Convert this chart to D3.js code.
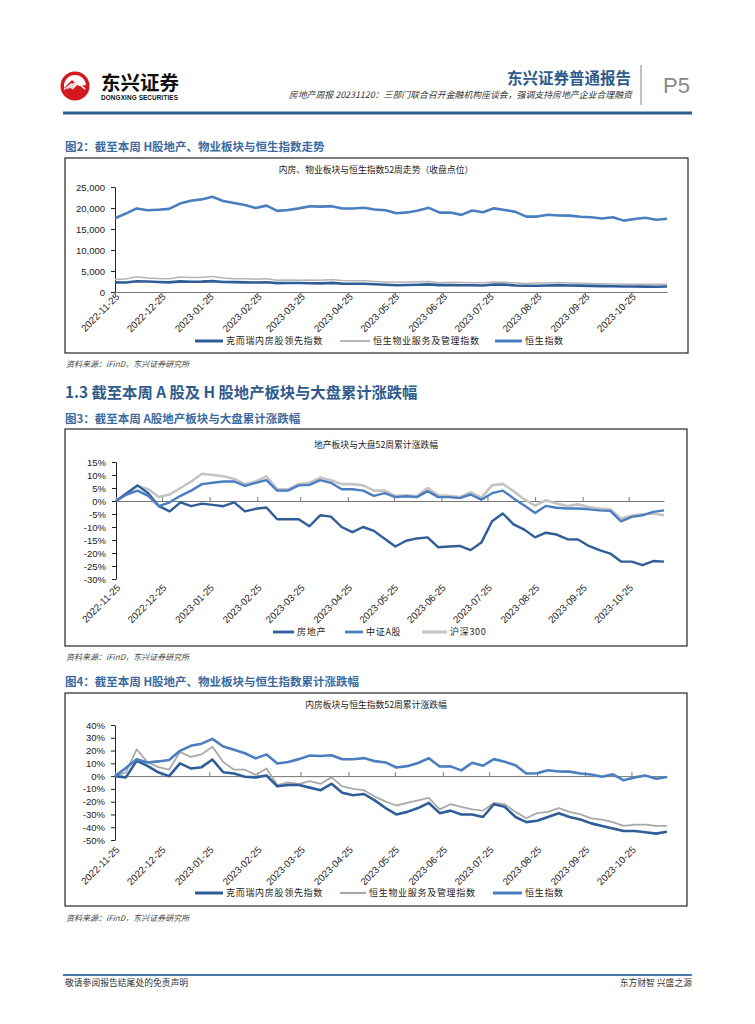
<!DOCTYPE html><meta charset="utf-8"><style>
  body { margin: 0; background: #fff; }
  svg text { font-family: "Liberation Sans", Arial, "Noto Sans CJK SC", sans-serif; }
  .cjk { font-family: "Noto Sans CJK SC", sans-serif; }
</style><svg width="755" height="1024"></svg><script src="https://cdn.jsdelivr.net/npm/d3@7/dist/d3.min.js"></script><script>

// weekly closes, 2022-11-25 .. 2023-11-17
var dates = ["2022-11-25","2022-12-02","2022-12-09","2022-12-16","2022-12-23","2022-12-30",
  "2023-01-06","2023-01-13","2023-01-20","2023-01-27","2023-02-03","2023-02-10","2023-02-17","2023-02-24",
  "2023-03-03","2023-03-10","2023-03-17","2023-03-24","2023-03-31","2023-04-07","2023-04-14","2023-04-21",
  "2023-04-28","2023-05-05","2023-05-12","2023-05-19","2023-05-26","2023-06-02","2023-06-09","2023-06-16",
  "2023-06-23","2023-06-30","2023-07-07","2023-07-14","2023-07-21","2023-07-28","2023-08-04","2023-08-11",
  "2023-08-18","2023-08-25","2023-09-01","2023-09-08","2023-09-15","2023-09-22","2023-09-29","2023-10-06",
  "2023-10-13","2023-10-20","2023-10-27","2023-11-03","2023-11-10","2023-11-17"];

var tickLabels = ["2022-11-25","2022-12-25","2023-01-25","2023-02-25","2023-03-25","2023-04-25",
  "2023-05-25","2023-06-25","2023-07-25","2023-08-25","2023-09-25","2023-10-25"];

// fig 2: closing points
var kerLevel = [2300,2277,2576,2484,2369,2300,2530,2438,2461,2599,2369,2346,2289,2277,2312,2116,2139,2139,2093,2047,
  2162,2001,1955,1978,1863,1725,1610,1656,1725,1817,1633,1679,1610,1610,1564,1794,1748,1564,1472,1495,
  1564,1633,1564,1518,1449,1403,1357,1311,1311,1288,1265,1300];
var propLevel = [3000,3090,3630,3330,3210,3150,3570,3450,3510,3690,3330,3150,3150,3030,3180,2790,2850,2820,2880,2820,
  2970,2760,2700,2670,2520,2400,2310,2370,2430,2490,2220,2340,2280,2220,2190,2370,2340,2160,2010,2130,
  2160,2250,2160,2100,2010,1980,1920,1830,1860,1860,1830,1830];
var hsiLevel = [17574,18675,19901,19450,19593,19781,21052,21738,22045,22689,21660,21190,20719,20010,20568,19320,19519,19916,20400,20331,
  20439,19898,19895,20049,19628,19451,18747,18950,19390,20041,18890,18916,18366,19414,18999,19917,19539,19075,17951,17956,
  18382,18202,18182,17933,17809,17486,17813,16995,17399,17664,17203,17454];

// fig 3: A-share cumulative change (%)
var reA = [0,3,6,3,-2,-4,-0.5,-2,-1,-1.5,-2,-0.5,-4,-3,-2.5,-7,-7,-7,-9.7,-5.5,
  -6,-10,-12,-10,-11.5,-14.5,-17.5,-15.3,-14.4,-14,-17.8,-17.5,-17.3,-18.9,-16,-7.8,-4.8,-9,-11,-14,
  -12.2,-12.9,-14.7,-14.8,-17.3,-18.9,-20.2,-23.3,-23.3,-24.7,-23.1,-23.3];
var csiA = [0,2.5,4,2,-2,-0.5,2,4,6.5,7,7.5,7.5,5.8,7,8,4,4,6,6.2,8,
  7,4.5,4.5,4,2,3,1.5,1.8,1.5,3.8,1.5,1.5,1.1,2.5,0.5,3,4,1,-1.7,-4.6,
  -1.9,-2.6,-2.9,-2.9,-3.2,-3.6,-3.8,-7.8,-6.1,-5.5,-4.2,-3.6];
var hs300 = [0,3,5.8,4.5,1.5,2.5,5,7.5,10.5,10,9.5,8.5,6.5,7.5,9.5,4.5,4.5,6.5,7,9,
  8,6.5,6.5,6,4,4,2,2.2,1.8,5,2.2,2,1.5,3.4,1.3,6,6.6,3.8,0.6,-1.8,
  0.3,-1,-1.9,-1.3,-2.3,-2.9,-3.2,-6.8,-5.6,-5.1,-4.8,-5.5];

// fig 4: HK cumulative change (%)
var kerPct = [0,-1,12,8,3,0,10,6,7,13,3,2,-0.5,-1,0.5,-8,-7,-7,-9,-11,
  -6,-13,-15,-14,-19,-25,-30,-28,-25,-21,-29,-27,-30,-30,-32,-22,-24,-32,-36,-35,
  -32,-29,-32,-34,-37,-39,-41,-43,-43,-44,-45,-43.5];
var propPct = [0,3,21,11,7,5,19,15,17,23,11,5,5,1,6,-7,-5,-6,-4,-6,
  -1,-8,-10,-11,-16,-20,-23,-21,-19,-17,-26,-22,-24,-26,-27,-21,-22,-28,-33,-29,
  -28,-25,-28,-30,-33,-34,-36,-39,-38,-38,-39,-39];
var hsiPct = [0,6.3,13.2,10.7,11.5,12.6,19.8,23.7,25.4,29.1,23.2,20.6,17.9,13.9,17.0,9.9,11.1,13.3,16.1,15.7,
  16.3,13.2,13.2,14.1,11.7,10.7,6.7,7.8,10.3,14.0,7.5,7.6,4.5,10.5,8.1,13.3,11.2,8.5,2.1,2.2,
  4.6,3.6,3.5,2.0,1.3,-0.5,1.4,-3.3,-1.0,0.5,-2.1,-0.7];

var levelTicks = [0,5000,10000,15000,20000,25000];
var aTicks = [-30,-25,-20,-15,-10,-5,0,5,10,15];
var hkTicks = [-50,-40,-30,-20,-10,0,10,20,30,40];

var DARK = "#2f5d98", MID = "#4a7ec0", GRAY = "#b4b4b4", LGRAY = "#c4c4c4", HEAD = "#2e5b8c";

var parse = d3.timeParse("%Y-%m-%d");
var days = dates.map(parse);
var tickDays = tickLabels.map(parse);

var svg = d3.select("svg");

// ---- page header ----
var logo = svg.append("g").attr("transform", "translate(75,86)");
logo.append("circle").attr("r", 14.5).attr("fill", "#d6181f");
logo.append("circle").attr("r", 11).attr("fill", "#fff");
logo.append("path").attr("d", "M-11,2 L-3,-6 L4,0 L11,-1 A11,11 0 0,1 -11,2 Z").attr("fill", "#d6181f");
[-7, -4, -1].forEach(function(o) {
  logo.append("line").attr("x1", o - 4).attr("y1", -2 - o * 0.2 + 4).attr("x2", o + 4).attr("y2", -8 - o * 0.2 + 4)
    .attr("stroke", "#fff").attr("stroke-width", 1.2);
});
logo.append("path").attr("d", "M-3,3 L3,-3 L10,3").attr("fill", "none").attr("stroke", "#fff").attr("stroke-width", 1.6);

svg.append("text").attr("class", "cjk").attr("x", 101).attr("y", 90)
  .attr("font-size", 19.5).attr("font-weight", 700).attr("fill", "#111").text("东兴证券");
svg.append("text").attr("x", 101).attr("y", 100).attr("font-size", 6.4).attr("font-weight", 700)
  .attr("fill", "#111").attr("textLength", 77).text("DONGXING SECURITIES");

svg.append("text").attr("class", "cjk").attr("x", 631).attr("y", 84).attr("text-anchor", "end")
  .attr("font-size", 15.5).attr("font-weight", 700).attr("fill", HEAD).text("东兴证券普通报告");
svg.append("text").attr("class", "cjk").attr("x", 632).attr("y", 98).attr("text-anchor", "end")
  .attr("font-size", 8.9).attr("fill", "#333").attr("font-style", "italic")
  .text("房地产周报 20231120：三部门联合召开金融机构座谈会，强调支持房地产企业合理融资");
svg.append("line").attr("x1", 641).attr("x2", 641).attr("y1", 65).attr("y2", 105)
  .attr("stroke", "#999").attr("stroke-width", 1.2);
svg.append("text").attr("x", 663).attr("y", 93).attr("font-size", 22).attr("fill", "#8a8a8a").text("P5");
svg.append("rect").attr("x", 63).attr("y", 111.5).attr("width", 629).attr("height", 3).attr("fill", "#2f5f8f");

// ---- headings ----
function caption(y, txt, size, color) {
  svg.append("text").attr("class", "cjk").attr("x", 65).attr("y", y).attr("font-size", size)
    .attr("font-weight", 700).attr("fill", color).text(txt);
}
function source(y) {
  svg.append("text").attr("class", "cjk").attr("x", 66).attr("y", y).attr("font-size", 8)
    .attr("font-style", "italic").attr("fill", "#444").text("资料来源：iFinD，东兴证券研究所");
}
caption(151, "图2：截至本周 H股地产、物业板块与恒生指数走势", 11.5, "#3b6ba0");
caption(398, "1.3 截至本周 A 股及 H 股地产板块与大盘累计涨跌幅", 15.3, HEAD);
caption(423, "图3：截至本周 A股地产板块与大盘累计涨跌幅", 11.5, "#3b6ba0");
caption(686, "图4：截至本周 H股地产、物业板块与恒生指数累计涨跌幅", 11.5, "#3b6ba0");
source(367);
source(660);
source(921);

// ---- chart panels ----
var fmtDate = d3.timeFormat("%Y-%m-%d");
var pct = function(d) { return d + "%"; };

var panels = [
  { box: [65, 158, 688, 353], xr: [115, 667], yd: [0, 25000], yr: [292, 187], ticks: levelTicks,
    fmt: d3.format(","), labelY: 297, tickDown: true, titleY: 173, legendY: 341,
    title: "内房、物业板块与恒生指数52周走势（收盘点位）",
    series: [
      { v: propLevel, c: GRAY, w: 1.5, name: "恒生物业服务及管理指数", lx: [340, 370] },
      { v: kerLevel, c: DARK, w: 2.6, name: "克而瑞内房股领先指数", lx: [195, 223] },
      { v: hsiLevel, c: MID, w: 2.6, name: "恒生指数", lx: [495, 522] } ] },
  { box: [65, 429, 687, 646], xr: [116, 664], yd: [-30, 15], yr: [579, 462], ticks: aTicks,
    fmt: pct, labelY: 588, tickDown: false, titleY: 448, legendY: 632,
    title: "地产板块与大盘52周累计涨跌幅",
    series: [
      { v: hs300, c: LGRAY, w: 2.6, name: "沪深300", lx: [422, 447] },
      { v: reA, c: DARK, w: 2.4, name: "房地产", lx: [273, 294] },
      { v: csiA, c: MID, w: 2.4, name: "中证A股", lx: [345, 363] } ] },
  { box: [65, 693, 687, 906], xr: [115, 667], yd: [-50, 40], yr: [840, 725], ticks: hkTicks,
    fmt: pct, labelY: 850, tickDown: false, titleY: 708, legendY: 893,
    title: "内房板块与恒生指数52周累计涨跌幅",
    series: [
      { v: propPct, c: "#a9a9a9", w: 1.8, name: "恒生物业服务及管理指数", lx: [340, 366] },
      { v: kerPct, c: DARK, w: 2.6, name: "克而瑞内房股领先指数", lx: [195, 223] },
      { v: hsiPct, c: MID, w: 2.6, name: "恒生指数", lx: [493, 522] } ] }
];

panels.forEach(function(p) {
  var g = svg.append("g");
  g.append("rect").attr("x", p.box[0]).attr("y", p.box[1])
    .attr("width", p.box[2] - p.box[0]).attr("height", p.box[3] - p.box[1])
    .attr("fill", "#fff").attr("stroke", "#111").attr("stroke-width", 1.1);

  g.append("text").attr("class", "cjk").attr("x", 376).attr("y", p.titleY).attr("text-anchor", "middle")
    .attr("font-size", 8.8).attr("fill", "#222").text(p.title);

  var x = d3.scaleTime().domain([days[0], days[days.length - 1]]).range(p.xr);
  var y = d3.scaleLinear().domain(p.yd).range(p.yr);

  // y axis
  g.append("g").attr("transform", "translate(" + p.xr[0] + ",0)")
    .call(d3.axisLeft(y).tickValues(p.ticks).tickFormat(p.fmt).tickSize(4).tickSizeOuter(0).tickPadding(6))
    .call(function(a) {
      a.selectAll("path, line").attr("stroke", "#222");
      a.selectAll("text").attr("font-size", 9.5).attr("fill", "#222").attr("font-family", "Liberation Sans, Arial");
    });

  // x axis line at zero
  var xa = p.tickDown ? d3.axisBottom(x) : d3.axisTop(x);
  g.append("g").attr("transform", "translate(0," + y(0) + ")")
    .call(xa.tickValues(tickDays).tickFormat("").tickSize(4).tickSizeOuter(0))
    .call(function(a) { a.selectAll("path, line").attr("stroke", "#777"); });

  // rotated date labels
  g.append("g").attr("transform", "translate(0," + p.labelY + ")")
    .call(d3.axisBottom(x).tickValues(tickDays).tickFormat(fmtDate).tickSize(0))
    .call(function(a) {
      a.select(".domain").remove();
      a.selectAll("text").attr("x", 3).attr("y", 0).attr("dy", "0.35em")
        .attr("text-anchor", "end").attr("transform", "rotate(-45)")
        .attr("font-size", 9.8).attr("fill", "#222").attr("font-family", "Liberation Sans, Arial");
    });

  var line = d3.line().x(function(d, i) { return x(days[i]); }).y(function(d) { return y(d); });
  p.series.forEach(function(s) {
    g.append("path").datum(s.v).attr("d", line).attr("fill", "none")
      .attr("stroke", s.c).attr("stroke-width", s.w).attr("stroke-linejoin", "round");
  });

  // legend
  p.series.forEach(function(s) {
    g.append("line").attr("x1", s.lx[0]).attr("x2", s.lx[1]).attr("y1", p.legendY).attr("y2", p.legendY)
      .attr("stroke", s.c).attr("stroke-width", s.w + 0.4);
    g.append("text").attr("class", "cjk").attr("x", s.lx[1] + 3).attr("y", p.legendY).attr("dy", "0.35em")
      .attr("font-size", 9).attr("letter-spacing", 0.7).attr("fill", "#222").text(s.name);
  });
});

// ---- footer ----
svg.append("rect").attr("x", 63).attr("y", 974).attr("width", 629).attr("height", 2).attr("fill", "#4a76a8");
svg.append("text").attr("class", "cjk").attr("x", 65).attr("y", 986).attr("font-size", 8.8)
  .attr("fill", "#333").text("敬请参阅报告结尾处的免责声明");
svg.append("text").attr("class", "cjk").attr("x", 692).attr("y", 986).attr("text-anchor", "end")
  .attr("font-size", 8.8).attr("fill", "#333").text("东方财智 兴盛之源");

</script>
